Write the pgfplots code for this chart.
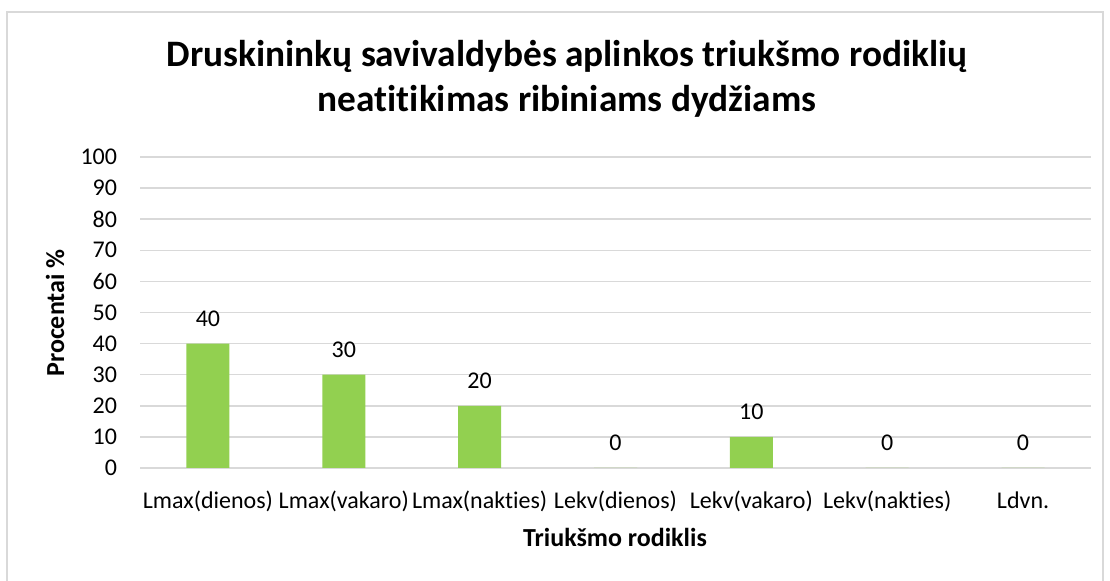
\documentclass[border=0pt]{standalone}
\usepackage{fontspec}
\setmainfont{Carlito}[RawFeature={-liga;-clig;-calt;-dlig}]
\usepackage{pgfplots}
\pgfplotsset{compat=1.18}
\definecolor{barg}{HTML}{92D050}
\definecolor{gridc}{HTML}{D9D9D9}
\begin{document}
\begin{tikzpicture}[x=0.75pt,y=0.75pt]
\useasboundingbox (0,0) rectangle (1110,581);
\draw[gridc, line width=1pt] (7,-20) rectangle (1103,569);
\node[font=\fontsize{28}{33}\selectfont\bfseries, anchor=base] at (567,514) {Druskininkų savivaldybės aplinkos triukšmo rodiklių};
\node[font=\fontsize{28}{33}\selectfont\bfseries, anchor=base] at (567,469) {neatitikimas ribiniams dydžiams};
\node[font=\fontsize{19.5}{23}\selectfont\bfseries, rotate=90, anchor=center] at (55,268) {Procentai \%};
\node[font=\fontsize{19.5}{23}\selectfont\bfseries, anchor=base] at (615,34) {Triukšmo rodiklis};
\begin{axis}[
  at={(105pt,84.75pt)}, anchor=south west,
  scale only axis, width=713.25pt, height=233.25pt,
  xmin=-0.5, xmax=6.5, ymin=0, ymax=100,
  ytick={0,10,...,100},
  xtick=data,
  xticklabels={Lmax(dienos),Lmax(vakaro),Lmax(nakties),Lekv(dienos),Lekv(vakaro),Lekv(nakties),Ldvn.},
  axis line style={draw=none},
  major tick length=0pt,
  ymajorgrids, grid style={gridc, line width=1.1pt},
  ticklabel style={font=\fontsize{18}{21}\selectfont},
  /pgf/number format/assume math mode=true,
  yticklabel style={inner sep=0pt, anchor=east, xshift=-17pt},
  xticklabel style={inner sep=0pt, anchor=base, yshift=-30.75pt},
  nodes near coords,
  every node near coord/.append style={font=\fontsize{18}{21}\selectfont, anchor=center, yshift=18.75pt, /pgf/number format/assume math mode=true},
  clip=false,
]
\addplot[ybar, bar width=32.25pt, fill=barg, draw=none] coordinates {(0,40) (1,30) (2,20) (3,0) (4,10) (5,0) (6,0)};
\end{axis}
\end{tikzpicture}
\end{document}
